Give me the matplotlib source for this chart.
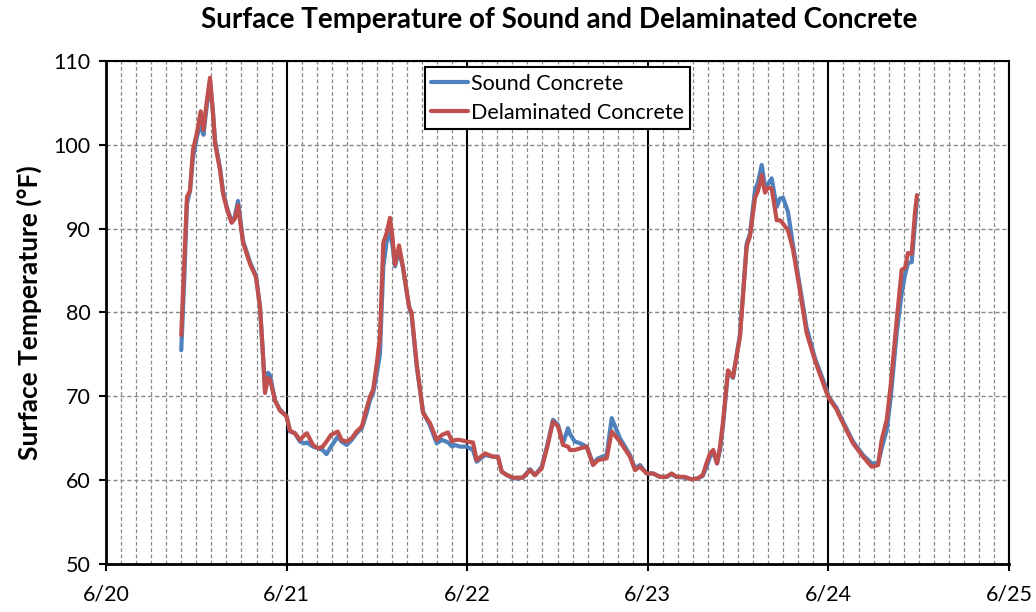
import matplotlib
matplotlib.use("Agg")
import matplotlib.pyplot as plt
from matplotlib.ticker import MultipleLocator, FixedLocator
import numpy as np

# hours since 6/20 00:00
hours = [10.0, 10.4, 10.76, 11.16, 11.56, 12.1, 12.58, 12.96, 13.3, 13.82, 14.2, 14.49, 15.15, 15.55,
         16.08, 16.7, 17.14, 17.54, 18.2, 19.14, 19.93, 20.46, 20.86, 21.13, 21.53, 21.8, 22.46, 23.12,
         24.0, 24.45, 25.1, 25.78, 26.4, 26.7, 27.5, 28.2, 28.8, 29.3, 29.9, 30.8, 31.3, 31.99, 32.65,
         33.3, 34.0, 34.64, 35.1, 35.5, 36.0, 36.4, 36.85, 37.3, 37.74, 38.07, 38.4, 38.94, 39.47, 40.27,
         40.6, 41.3, 42.13, 43.06, 43.95, 44.65, 45.45, 46.0, 46.38, 47.04, 47.97, 48.77, 49.26, 50.37,
         51.43, 52.09, 52.59, 53.3, 54.09, 55.4, 56.35, 57.0, 57.9, 58.6, 59.4, 60.07, 60.73, 61.4, 61.66,
         62.3, 63.0, 63.88, 64.72, 65.38, 66.54, 67.2, 68.3, 69.63, 70.3, 70.96, 71.85, 72.69, 73.62,
         74.5, 75.16, 75.8, 76.9, 77.8, 78.6, 79.3, 79.8, 80.27, 80.7, 81.2, 81.6, 82.0, 82.66, 83.32,
         84.25, 85.14, 85.58, 86.25, 86.64, 87.14, 87.57, 87.97, 88.46, 89.13, 89.57, 89.97, 90.63, 91.3,
         92.2, 93.1, 94.2, 95.77, 96.0, 97.1, 97.5, 99.27, 100.6, 101.75, 102.6, 103.08, 103.75, 104.3,
         105.08, 105.74, 106.18, 106.58, 107.07, 107.5, 107.77]

sound = [75.5, 84, 93, 94.5, 98.5, 101, 102.5, 101.2, 104, 107.5, 104, 100.5, 97.2, 94.5,
         92.5, 90.8, 91.5, 93.3, 88.6, 86, 84.4, 80.7, 75, 71, 72.8, 72.5, 69.5, 68.4,
         67.6, 65.8, 65.6, 64.6, 64.4, 64.5, 64, 63.8, 63.6, 63.1, 64, 65.2, 64.6, 64.2, 64.8,
         65.6, 66.2, 68, 69.6, 70.4, 72.8, 75, 85.5, 88.5, 89.5, 88, 85.5, 87.5, 85.3, 80.7,
         79.8, 73.5, 68.2, 66.5, 64.4, 64.8, 64.5, 64.0, 64.2, 64.0, 64.0, 63.6, 62.2, 63.0,
         62.8, 62.8, 61.0, 60.6, 60.2, 60.3, 61.3, 60.6, 61.6, 64, 67.2, 66.6, 64.4, 66.2, 65.5,
         64.6, 64.4, 64.0, 62.0, 62.6, 63, 67.4, 65, 63.0, 61.4, 61.8, 60.8, 60.8, 60.4,
         60.4, 60.7, 60.4, 60.3, 60.1, 60.2, 60.5, 61.6, 62.8, 63.4, 62, 63.6, 66.6, 73, 72.2,
         77.4, 88.2, 89.4, 94.6, 95.5, 97.6, 95, 95.3, 96, 92.6, 93.6, 93.7, 92, 88,
         83.2, 78.2, 74.6, 70.8, 70, 68.6, 67.8, 64.6, 63, 62, 62, 63.8, 66, 70,
         77.6, 82.3, 84.5, 85.9, 86, 90.5, 93.5]

delam = [77.3, 86, 93.8, 94.5, 99.4, 101.5, 104, 101.8, 104.5, 108, 104, 100.2, 97, 94.2,
         92.3, 90.7, 91.2, 92.8, 88.4, 85.8, 84.2, 80.7, 75, 70.4, 72.2, 72, 69.5, 68.3,
         67.6, 65.9, 65.6, 64.8, 65.4, 65.6, 64.2, 63.8, 64, 64.6, 65.4, 65.8, 64.8, 64.6, 65,
         65.8, 66.4, 68.6, 70, 70.8, 74, 77, 88.3, 89.5, 91.3, 89, 85.7, 88, 85.4, 80.7,
         80, 73.8, 68, 66.8, 64.8, 65.4, 65.7, 64.6, 64.8, 64.8, 64.6, 64.5, 62.4, 63.2,
         62.8, 62.8, 61.0, 60.6, 60.3, 60.3, 61.2, 60.6, 61.4, 63.8, 67, 66.4, 64.2, 64.0, 63.6,
         63.6, 63.8, 64.0, 61.8, 62.4, 62.6, 65.8, 64.6, 62.8, 61.2, 61.6, 60.8, 60.8, 60.4,
         60.4, 60.8, 60.4, 60.4, 60.1, 60.2, 60.6, 62, 63.2, 63.6, 62, 64, 67, 73.1, 72.3,
         77.1, 87.9, 89.1, 93.7, 94.5, 96.4, 94.3, 94.9, 94.8, 91, 91, 90.6, 89.8, 87.5,
         82.7, 77.6, 74.3, 70.4, 69.9, 68.4, 67.6, 64.4, 62.8, 61.6, 61.8, 64.8, 67.2, 71.5,
         79.1, 85.1, 85.3, 87.1, 87, 91.9, 94]

day_labels = ["6/20", "6/21", "6/22", "6/23", "6/24", "6/25"]
series_names = ["Sound Concrete", "Delaminated Concrete"]

plt.rcParams['font.family'] = ['Lato', 'DejaVu Sans']

fig = plt.figure(figsize=(10.36, 6.12), dpi=100)
ax = fig.add_axes([106/1036, 1 - 564/612, (1009-106)/1036, (564-61)/612])

x = np.array(hours) / 24.0
ax.plot(x, sound, color="#4F81BD", lw=3.0, label=series_names[0], zorder=3,
        solid_joinstyle='round', solid_capstyle='round')
ax.plot(x, delam, color="#C0504D", lw=3.0, label=series_names[1], zorder=4,
        solid_joinstyle='round', solid_capstyle='round')

ax.set_xlim(0, 5)
ax.set_ylim(50, 110)
ax.xaxis.set_major_locator(FixedLocator(range(6)))
ax.set_xticklabels(day_labels)
ax.xaxis.set_minor_locator(MultipleLocator(1/12))
ax.yaxis.set_major_locator(MultipleLocator(10))

ax.grid(which='minor', axis='x', color='#888888', ls=(0, (3, 2)), lw=0.9, zorder=1)
ax.grid(which='major', axis='x', color='black', ls='-', lw=1.5, zorder=2)
ax.grid(which='major', axis='y', color='#888888', ls=(0, (3, 2)), lw=1.0, zorder=1)

for s in ax.spines.values():
    s.set_color('black')
    s.set_linewidth(1.5)
ax.spines['left'].set_linewidth(2.0)
ax.spines['bottom'].set_linewidth(2.0)

ax.tick_params(axis='both', which='major', direction='out', length=5, width=1.5, labelsize=15.5, pad=10)
ax.tick_params(axis='x', which='minor', length=0)
ax.tick_params(axis='y', pad=6)

ax.set_ylabel("Surface Temperature (°F)", fontsize=19, fontweight='bold', labelpad=8)
fig.text(559/1036, 1 - 20/612, "Surface Temperature of Sound and Delaminated Concrete",
         ha='center', va='center', fontsize=20, fontweight='bold')

leg = ax.legend(loc='upper center', bbox_to_anchor=(0.50, 1.0), fontsize=15.5, frameon=True,
                fancybox=False, edgecolor='black', framealpha=1, handlelength=1.7,
                handletextpad=0.15, borderpad=0.3, labelspacing=0.4, borderaxespad=0.3)
leg.get_frame().set_linewidth(1.5)
for h in leg.get_lines():
    h.set_linewidth(3.0)

fig.savefig("out.png", dpi=100)
